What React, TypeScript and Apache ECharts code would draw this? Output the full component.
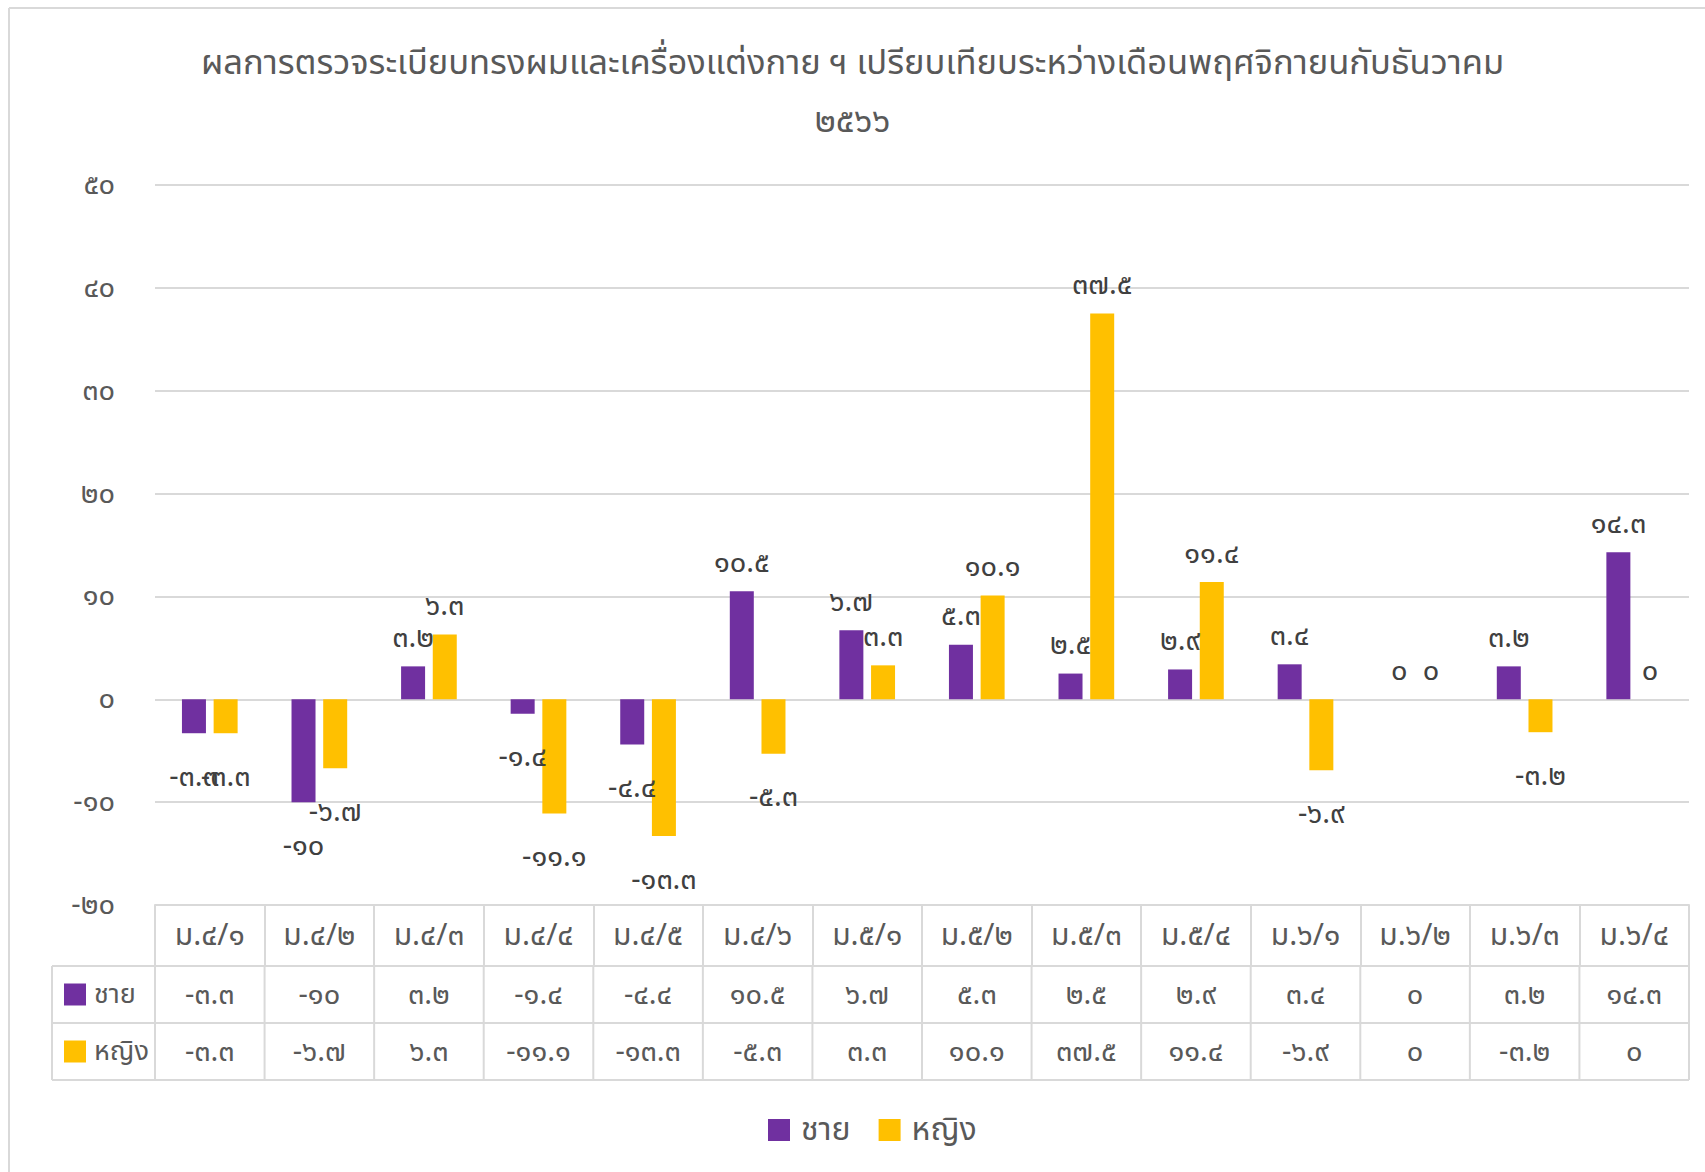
import React, { useEffect, useRef } from "react";
import * as echarts from "echarts";

const categories = [
  "ม.๔/๑", "ม.๔/๒", "ม.๔/๓", "ม.๔/๔", "ม.๔/๕", "ม.๔/๖", "ม.๕/๑",
  "ม.๕/๒", "ม.๕/๓", "ม.๕/๔", "ม.๖/๑", "ม.๖/๒", "ม.๖/๓", "ม.๖/๔",
];
const maleValues = [-3.3, -10, 3.2, -1.4, -4.4, 10.5, 6.7, 5.3, 2.5, 2.9, 3.4, 0, 3.2, 14.3];
const femaleValues = [-3.3, -6.7, 6.3, -11.1, -13.3, -5.3, 3.3, 10.1, 37.5, 11.4, -6.9, 0, -3.2, 0];
const seriesNames = ["ชาย", "หญิง"];
const seriesColors = ["#7030A0", "#FFC000"];
const titleLines = [
  "ผลการตรวจระเบียบทรงผมและเครื่องแต่งกาย ฯ เปรียบเทียบระหว่างเดือนพฤศจิกายนกับธันวาคม",
  "๒๕๖๖",
];
const yMin = -20;
const yMax = 50;
const yStep = 10;

const THAI_DIGITS = "๐๑๒๓๔๕๖๗๘๙";
const toThai = (v: number | string) =>
  String(v).replace(/[0-9]/g, (d) => THAI_DIGITS[Number(d)]);

const FONT = "'Noto Sans Thai', 'Noto Sans', 'Leelawadee UI', sans-serif";
const GRAY = "#d9d9d9";
const TEXT = "#595959";
const LABEL = "#404040";

// layout (page pixels)
const W = 1705;
const H = 1172;
const GRID_LEFT = 155;
const GRID_RIGHT_X = 1689;
const GRID_TOP = 185;
const GRID_BOTTOM_Y = 905;
const ROW_LINES = [966, 1023, 1080];
const TABLE_LEFT = 52;
const NUM_SIZE = 29;

export default function App() {
  const ref = useRef<HTMLDivElement>(null);
  useEffect(() => {
    if (!ref.current) return;
    const chart = echarts.init(ref.current, null, { renderer: "svg" });
    const n = categories.length;
    const cw = (GRID_RIGHT_X - GRID_LEFT) / n;
    const allSeries = [maleValues, femaleValues];

    const graphic: any[] = [];
    const line = (x1: number, y1: number, x2: number, y2: number) => ({
      type: "line",
      silent: true,
      shape: { x1, y1, x2, y2 },
      style: { stroke: GRAY, lineWidth: 2 },
    });
    // chart border
    graphic.push(line(9, 8, W, 8));
    graphic.push(line(9, 8, 9, H));
    // table rows
    ROW_LINES.forEach((y) => graphic.push(line(TABLE_LEFT, y, GRID_RIGHT_X, y)));
    graphic.push(line(TABLE_LEFT, ROW_LINES[0], TABLE_LEFT, ROW_LINES[2]));
    for (let i = 0; i <= n; i++) {
      const x = GRID_LEFT + i * cw;
      graphic.push(line(x, ROW_LINES[0], x, ROW_LINES[2]));
    }
    allSeries.forEach((vals, s) => {
      const cy = (ROW_LINES[s] + ROW_LINES[s + 1]) / 2;
      graphic.push({
        type: "rect",
        silent: true,
        shape: { x: 64, y: cy - 11, width: 22, height: 22 },
        style: { fill: seriesColors[s] },
      });
      graphic.push({
        type: "text",
        silent: true,
        x: 94,
        y: cy,
        style: {
          text: seriesNames[s],
          fill: TEXT,
          font: `27px ${FONT}`,
          verticalAlign: "middle",
          align: "left",
        },
      });
      vals.forEach((v, i) => {
        graphic.push({
          type: "text",
          silent: true,
          x: GRID_LEFT + (i + 0.5) * cw,
          y: cy,
          style: {
            text: toThai(v),
            fill: TEXT,
            font: `${NUM_SIZE}px ${FONT}`,
            verticalAlign: "middle",
            align: "center",
          },
        });
      });
    });

    const makeData = (vals: number[]) =>
      vals.map((v) => ({
        value: v,
        label: v < 0
          ? { position: "bottom", distance: 29 }
          : { position: "top", distance: 14 },
      }));

    chart.setOption({
      animation: false,
      backgroundColor: "#ffffff",
      textStyle: { fontFamily: FONT },
      title: {
        text: titleLines.join("\n"),
        left: "center",
        top: 29,
        textStyle: {
          fontFamily: FONT,
          fontSize: 34.5,
          fontWeight: "normal",
          color: TEXT,
          lineHeight: 58,
        },
      },
      legend: {
        data: seriesNames,
        left: 763,
        top: 1109,
        icon: "rect",
        itemWidth: 22,
        itemHeight: 22,
        itemGap: 28,
        textStyle: { fontFamily: FONT, fontSize: 32, color: TEXT, padding: [0, 0, 0, 6] },
      },
      grid: {
        left: GRID_LEFT,
        right: W - GRID_RIGHT_X,
        top: GRID_TOP,
        bottom: H - GRID_BOTTOM_Y,
      },
      xAxis: {
        type: "category",
        data: categories,
        position: "bottom",
        axisLine: { show: true, onZero: false, lineStyle: { color: GRAY, width: 2 } },
        axisTick: { show: true, length: 61, lineStyle: { color: GRAY, width: 2 } },
        axisLabel: { color: TEXT, fontSize: 30, margin: 16, fontFamily: FONT },
      },
      yAxis: {
        type: "value",
        min: yMin,
        max: yMax,
        interval: yStep,
        axisLine: { show: false },
        axisTick: { show: false },
        axisLabel: {
          color: TEXT,
          fontSize: NUM_SIZE,
          margin: 40,
          fontFamily: FONT,
          formatter: (v: number) => toThai(v),
        },
        splitLine: { lineStyle: { color: GRAY, width: 2 } },
      },
      series: allSeries.map((vals, s) => ({
        name: seriesNames[s],
        type: "bar",
        data: makeData(vals),
        barWidth: 24,
        barGap: "32%",
        itemStyle: { color: seriesColors[s] },
        label: {
          show: true,
          color: LABEL,
          fontSize: NUM_SIZE,
          fontFamily: FONT,
          formatter: (p: any) => toThai(p.value),
        },
      })),
      graphic,
    });
    return () => chart.dispose();
  }, []);
  return (
    <div
      ref={ref}
      style={{ position: "fixed", left: 0, top: 0, width: W, height: H, background: "#fff" }}
    />
  );
}
